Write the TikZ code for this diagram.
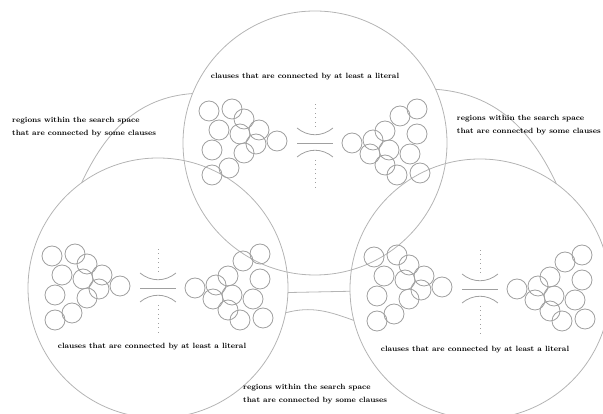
\documentclass[tikz,border=0pt]{standalone}
\usetikzlibrary{calc}
\definecolor{ringgray}{HTML}{B4B4B4}
\definecolor{clausegray}{HTML}{A0A0A0}

\tikzset{
  space/.style={circle, draw=ringgray, line width=0.8pt, inner sep=0pt, outer sep=0pt},
  clause/.style={draw=clausegray, line width=0.8pt},
  link/.style={draw=ringgray, line width=0.8pt},
  dots/.style={draw=clausegray, line width=0.9pt, dash pattern=on 0.9pt off 3.6pt},
  caption/.style={font=\fontsize{7.6}{12.5}\selectfont\bfseries, inner sep=0pt},
}

% one cluster of clauses, apex at the origin
\newcommand{\clausecluster}{%
  \foreach \dx/\dy in {-68/30,-45/32,-33/22,-58/11,-37/7,-18/11,0/0,-65/-9,-33/-12,-21/-3,-48/-27,-65/-34}
    \draw[clause] (\dx,\dy) circle (10);}

% two clusters and the neck between them
\newcommand{\clausegroup}[1]{%
  \begin{scope}[shift={(#1.center)}]
    \begin{scope}[shift={(-38,2)}] \clausecluster \end{scope}
    \begin{scope}[shift={(37,0)},rotate=180] \clausecluster \end{scope}
    \draw[clause] (-18,15) .. controls (-7,6) and (7,6) .. (18,15);
    \draw[clause] (-18,0) -- (18,0);
    \draw[clause] (-18,-14) .. controls (-7,-5) and (7,-5) .. (18,-14);
    \draw[dots] (0,16) -- (0,40);
    \draw[dots] (0,-17) -- (0,-45);
  \end{scope}}

\begin{document}
\begin{tikzpicture}[x=1pt,y=1pt]
\useasboundingbox (0,0) rectangle (603,414);

% search space regions
\node[space, minimum size=264pt] (c1) at (315,271) {};
\node[space, minimum size=260pt] (c2) at (158,126) {};
\node[space, minimum size=260pt] (c3) at (480,125) {};

% connections between regions
\draw[link] (c2.126) to[out=65,in=184] (c1.158);
\draw[link] (c1.24) to[out=-4,in=115] (c3.54);
\draw[link] (c2.-2) -- (c3.181);
\draw[link] (c2.-11) to[out=15,in=160] (c3.194);

\clausegroup{c1}
\clausegroup{c2}
\clausegroup{c3}

\node[caption] (cap1) at ($(c1)+(-10,66)$) {clauses that are connected by at least a literal};
\node[caption] (cap2) at ($(c2)+(-6,-59)$) {clauses that are connected by at least a literal};
\node[caption] (cap3) at ($(c3)+(-5,-61)$) {clauses that are connected by at least a literal};

\node[caption, anchor=west, align=left] (reg1) at (12,287) {regions within the search space\\that are connected by some clauses};
\node[caption, anchor=east, align=left] (reg2) at (601,289) {regions within the search space\\that are connected by some clauses};
\node[caption, anchor=west, align=left] (reg3) at (243,20) {regions within the search space\\that are connected by some clauses};
\end{tikzpicture}
\end{document}
